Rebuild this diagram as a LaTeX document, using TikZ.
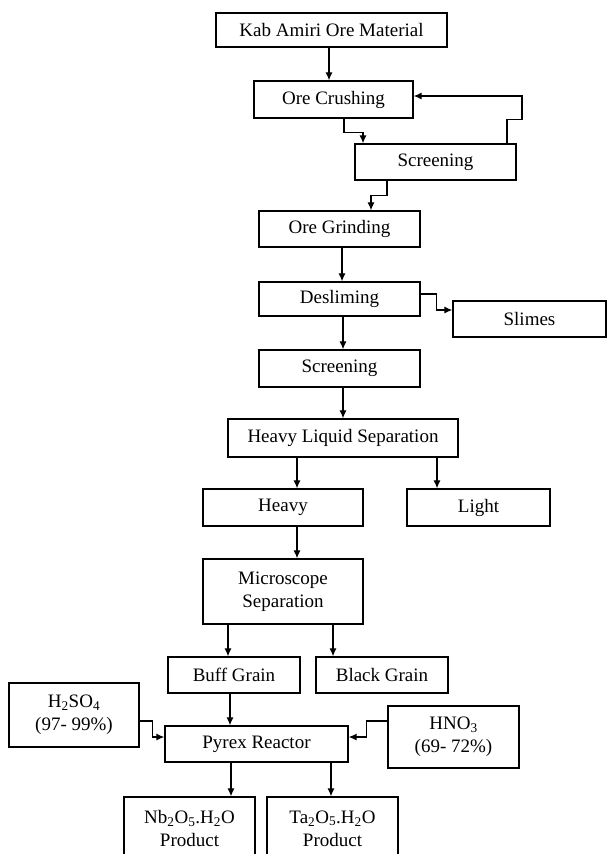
\documentclass[tikz,border=0pt]{standalone}
\usepackage{fontspec}
\setmainfont{Liberation Serif}
\usetikzlibrary{calc,arrows.meta}
\tikzset{box/.style={draw,line width=1.3pt,inner sep=0pt,align=center,font=\fontsize{19}{23}\selectfont}}

\begin{document}
\begin{tikzpicture}[x=1pt,y=-1pt,>={Latex[length=8pt,width=7pt]},line width=1.2pt]
\useasboundingbox (0,0) rectangle (608,854);

\node[box,minimum width=231pt,minimum height=34pt] (kab) at (331.5,30) {Kab Amiri Ore Material};
\node[box,minimum width=159pt,minimum height=37pt] (crush) at (333.5,99.5) {Ore Crushing};
\node[box,minimum width=161pt,minimum height=36pt] (screenA) at (435.5,162) {Screening};
\node[box,minimum width=161pt,minimum height=36pt] (grind) at (339.5,229) {Ore Grinding};
\node[box,minimum width=161pt,minimum height=34pt] (deslime) at (339.5,299) {Desliming};
\node[box,minimum width=153pt,minimum height=36pt] (slimes) at (529.5,319) {Slimes};
\node[box,minimum width=161pt,minimum height=37pt] (screenB) at (339.5,368.5) {Screening};
\node[box,minimum width=230pt,minimum height=38pt] (hls) at (343,438) {Heavy Liquid Separation};
\node[box,minimum width=160pt,minimum height=37pt] (heavy) at (283,507.5) {Heavy};
\node[box,minimum width=143pt,minimum height=37pt] (light) at (478.5,507.5) {Light};
\node[box,minimum width=160pt,minimum height=65pt] (micro) at (283,591.5) {Microscope\\Separation};
\node[box,minimum width=132pt,minimum height=36pt] (buff) at (234,675) {Buff Grain};
\node[box,minimum width=132pt,minimum height=36pt] (black) at (382,675) {Black Grain};
\node[box,minimum width=130pt,minimum height=64pt] (hso) at (74,715) {H\textsubscript{2}SO\textsubscript{4}\\(97- 99\%)};
\node[box,minimum width=183pt,minimum height=36pt] (pyrex) at (256.5,744) {Pyrex Reactor};
\node[box,minimum width=131pt,minimum height=62pt] (hno) at (453.5,737) {HNO\textsubscript{3}\\(69- 72\%)};
\node[box,minimum width=131pt,minimum height=63pt] (nb) at (189.5,828.5) {Nb\textsubscript{2}O\textsubscript{5}.H\textsubscript{2}O\\Product};
\node[box,minimum width=131pt,minimum height=63pt] (ta) at (332.5,828.5) {Ta\textsubscript{2}O\textsubscript{5}.H\textsubscript{2}O\\Product};

\draw[->] ([xshift=-2.5pt]kab.south) -- ([xshift=-4.5pt]crush.north);
\draw[->] ([xshift=10.5pt]crush.south) -- ++(0,14) -| ([xshift=-72.5pt]screenA.north);
\draw[->] ([xshift=71.5pt]screenA.north) -- ++(0,-24) -- ++(15,0) |- ([yshift=3.5pt]crush.east);
\draw[->] ([xshift=-48.5pt]screenA.south) -- ++(0,15) -| ([xshift=31.5pt]grind.north);
\draw[->] ([xshift=2.5pt]grind.south) -- ([xshift=2.5pt]deslime.north);
\draw[->] ([yshift=5pt]deslime.east) -- ++(16,0) |- ([yshift=9pt]slimes.west);
\draw[->] ([xshift=3.5pt]deslime.south) -- ([xshift=3.5pt]screenB.north);
\draw[->] (screenB.south -| hls.north) -- (hls.north);
\draw[->] ($(heavy.north |- hls.south)+(14,0)$) -- ([xshift=14pt]heavy.north);
\draw[->] ($(light.north |- hls.south)+(-41.5,0)$) -- ([xshift=-41.5pt]light.north);
\draw[->] ([xshift=14pt]heavy.south) -- ([xshift=14pt]micro.north);
\draw[->] ($(buff.north |- micro.south)+(-6,0)$) -- ([xshift=-6pt]buff.north);
\draw[->] ($(black.north |- micro.south)+(-49,0)$) -- ([xshift=-49pt]black.north);
\draw[->] ([xshift=-4pt]buff.south) -- ($(pyrex.north -| buff.south)+(-4,0)$);
\draw[->] ([yshift=-6pt]hso.east) -- ++(13,0) |- ([yshift=7pt]pyrex.west);
\draw[->] ([yshift=16pt]hno.west) -- ++(-21,0) |- ([yshift=7pt]pyrex.east);
\draw[->] ($(nb.north |- pyrex.south)+(41.5,0)$) -- ([xshift=41.5pt]nb.north);
\draw[->] ($(ta.north |- pyrex.south)+(-1.5,0)$) -- ([xshift=-1.5pt]ta.north);

\end{tikzpicture}
\end{document}
